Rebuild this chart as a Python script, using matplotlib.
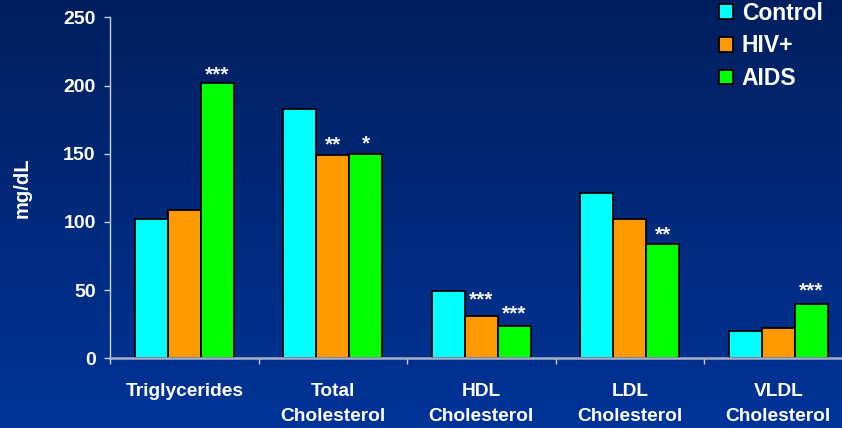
import numpy as np
import matplotlib
matplotlib.use("Agg")
import matplotlib.pyplot as plt

# Lipid panel means by patient group
categories = ["Triglycerides", "Total\nCholesterol", "HDL\nCholesterol",
              "LDL\nCholesterol", "VLDL\nCholesterol"]
groups = ["Control", "HIV+", "AIDS"]
control = [102, 183, 49, 121, 20]
hiv = [109, 149, 31, 102, 22]
aids = [202, 150, 24, 84, 40]
hiv_sig = ["", "**", "***", "", ""]
aids_sig = ["***", "*", "***", "**", "***"]
y_ticks = [0, 50, 100, 150, 200, 250]

colors = ["#00FFFF", "#FF9900", "#00FF00"]
FONT = "Liberation Sans"
W, H, DPI = 842, 428, 100

fig = plt.figure(figsize=(W / DPI, H / DPI), dpi=DPI)

# navy vertical gradient background
bg = fig.add_axes([0, 0, 1, 1], zorder=-10)
top = np.array([0, 31, 94]) / 255
bot = np.array([0, 52, 152]) / 255
t = np.linspace(0, 1, 256)[:, None]
grad = top[None, :] * (1 - t) + bot[None, :] * t
bg.imshow(grad[:, None, :], aspect="auto", extent=[0, 1, 0, 1])
bg.set_axis_off()

ax = fig.add_axes([110 / W, 69.7 / H, 742.5 / W, 341 / H])
ax.patch.set_alpha(0)

x = np.arange(len(categories))
bw = 0.222
series = [control, hiv, aids]
for i, (vals, col, name) in enumerate(zip(series, colors, groups)):
    ax.bar(x + (i - 1) * bw, vals, width=bw, color=col,
           edgecolor="black", linewidth=1.3, label=name, zorder=2)

# significance marks above HIV+ and AIDS bars
star_gap = {("hiv", 1): 5, ("hiv", 2): 11, ("aids", 0): 2, ("aids", 1): 4,
            ("aids", 2): 6, ("aids", 3): 3, ("aids", 4): 7}
for key, vals, sig, off in (("hiv", hiv, hiv_sig, 0), ("aids", aids, aids_sig, 1)):
    for j, s in enumerate(sig):
        if not s:
            continue
        gap_px = star_gap.get((key, j), 5)
        ax.annotate(s, (x[j] + off * bw, vals[j]),
                    xytext=(0, gap_px * 72 / DPI), textcoords="offset points",
                    ha="center", va="baseline", color="#f2f2f2",
                    fontsize=15, fontweight="bold", family=FONT, zorder=3)

ax.set_xlim(-0.5, len(categories) - 0.5)
ax.set_ylim(0, 250)

ax.set_yticks(y_ticks)
ax.set_yticklabels([str(v) for v in y_ticks])
ax.tick_params(axis="y", direction="out", length=4.3, width=1.0,
               color="#c8d0e0", pad=6, labelcolor="white", labelsize=14)

ax.set_xticks(np.arange(-0.5, len(categories), 1.0))
ax.set_xticklabels([])
ax.tick_params(axis="x", which="major", direction="out", length=4.3,
               width=1.0, color="#c8d0e0")
ax.set_xticks(x, minor=True)
ax.set_xticklabels(categories, minor=True, linespacing=1.6)
ax.tick_params(axis="x", which="minor", length=0, pad=18,
               labelcolor="white", labelsize=13.8)

for lbl in ax.get_xticklabels(minor=True) + ax.get_yticklabels():
    lbl.set_fontweight("bold")
    lbl.set_family(FONT)

for side in ("top", "right"):
    ax.spines[side].set_visible(False)
ax.spines["left"].set_color("#c8d0e0")
ax.spines["left"].set_linewidth(1.0)
ax.spines["bottom"].set_color("#a8b0c8")
ax.spines["bottom"].set_linewidth(1.8)

ax.set_ylabel("mg/dL", color="white", fontsize=14.5, fontweight="bold",
              family=FONT)
ax.yaxis.set_label_coords((32 - 110) / 742.5, 0.5)

ax.legend(loc="upper left", bbox_to_anchor=(719 / W, 0.996),
          bbox_transform=fig.transFigure, frameon=False,
          prop={"family": FONT, "weight": "bold", "size": 16.5},
          labelcolor="white", handlelength=0.6, handleheight=0.6,
          handletextpad=0.4, labelspacing=0.42, borderpad=0,
          borderaxespad=0)

fig.savefig("out.png", dpi=DPI)
